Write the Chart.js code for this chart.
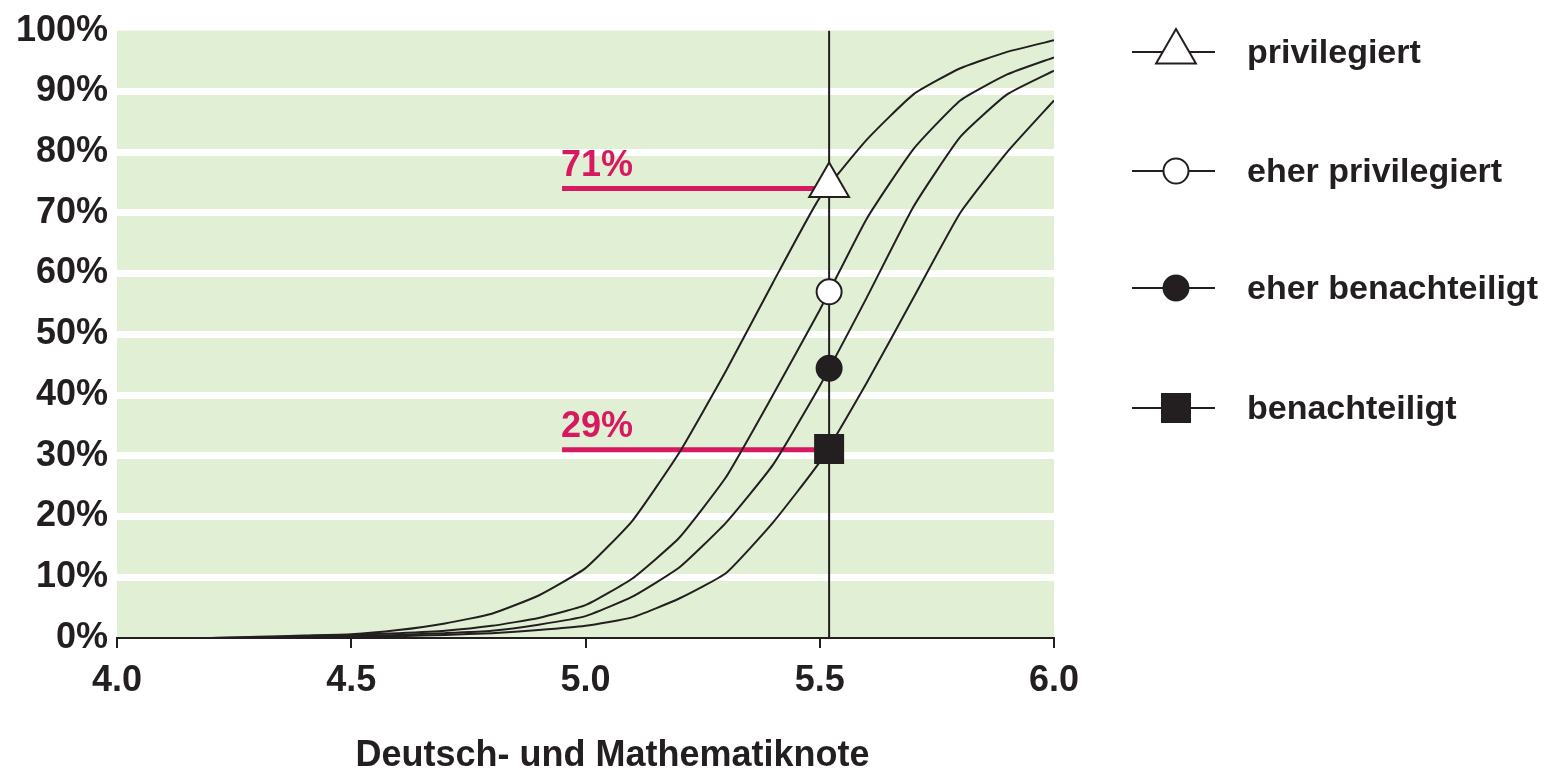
<!DOCTYPE html>
<html>
<head>
<meta charset="utf-8">
<script src="https://cdn.jsdelivr.net/npm/chart.js@4/dist/chart.umd.min.js"></script>
<style>
  html, body { margin: 0; padding: 0; background: #fff; }
  #wrap { width: 1560px; height: 772px; }
</style>
</head>
<body>
<div id="wrap"><canvas id="chart" width="1560" height="772"></canvas></div>
<script>
// Deutsch- und Mathematiknote (x) vs. Anteil in % (y)
const grades = [4.2, 4.3, 4.4, 4.5, 4.6, 4.7, 4.8, 4.9, 5.0, 5.1, 5.2, 5.3, 5.4, 5.5, 5.6, 5.7, 5.8, 5.9, 6.0];
const privilegiert      = [0, 0.2, 0.4, 0.6, 1.3, 2.4, 4.0, 7.0, 11.5, 19.3, 30.5, 44, 58.5, 72.5, 82, 89.5, 93.8, 96.5, 98.4];
const eherPrivilegiert  = [0, 0.1, 0.3, 0.5, 0.8, 1.2, 2.0, 3.3, 5.4, 9.8, 16.5, 26.5, 40, 54, 69, 80.5, 88.5, 92.8, 95.6];
const eherBenachteiligt = [0, 0.1, 0.2, 0.3, 0.5, 0.8, 1.2, 2.2, 3.6, 6.8, 11.6, 19, 28.5, 41.5, 56, 71, 82.5, 89.5, 93.4];
const benachteiligt     = [0, 0, 0.1, 0.2, 0.3, 0.5, 0.8, 1.3, 2.0, 3.4, 6.5, 10.7, 19, 29, 42, 56, 70, 80, 88.5];

const groupNames = ["privilegiert", "eher privilegiert", "eher benachteiligt", "benachteiligt"];
const cutoff = 5.52;
const markerValues = [74.5, 57, 44.4, 31.1];
const markerStyles = ["triangle", "circle", "circle", "rect"];
const markerFills = ["#ffffff", "#ffffff", "#231f20", "#231f20"];
const markerSizes = [23, 12.5, 12.5, 19.8];

const highlightValues = [74, 31];
const highlightLabels = ["71%", "29%"];
const highlightFrom = 4.95;

const xTicks = [4.0, 4.5, 5.0, 5.5, 6.0];
const yTicks = [0, 10, 20, 30, 40, 50, 60, 70, 80, 90, 100];

const ink = "#231f20";
const pink = "#d7195f";
const green = "#e1efd5";
const font = "'Liberation Sans', Arial, sans-serif";

const curves = [privilegiert, eherPrivilegiert, eherBenachteiligt, benachteiligt];

const datasets = [];
// markers on the cutoff line
markerValues.forEach((v, i) => {
  datasets.push({
    label: groupNames[i],
    data: [{ x: cutoff, y: v }],
    showLine: false,
    pointStyle: markerStyles[i],
    pointRadius: markerSizes[i],
    pointBackgroundColor: markerFills[i],
    pointBorderColor: ink,
    pointBorderWidth: 2,
    order: 0
  });
});
curves.forEach((c, i) => {
  datasets.push({
    label: groupNames[i] + " Kurve",
    data: grades.map((g, j) => ({ x: g, y: c[j] })),
    borderColor: ink,
    borderWidth: 2,
    pointRadius: 0,
    tension: 0.15,
    fill: false,
    order: 1
  });
});
datasets.push({
  label: "Schwelle",
  data: [{ x: cutoff, y: 0 }, { x: cutoff, y: 100 }],
  borderColor: ink,
  borderWidth: 2,
  pointRadius: 0,
  order: 2
});
highlightValues.forEach((v, i) => {
  datasets.push({
    label: highlightLabels[i],
    data: [{ x: highlightFrom, y: v }, { x: cutoff, y: v }],
    borderColor: pink,
    borderWidth: 5,
    pointRadius: 0,
    order: 3
  });
});

const extras = {
  id: "extras",
  beforeDraw(chart) {
    const { ctx, chartArea: a } = chart;
    ctx.save();
    ctx.fillStyle = green;
    ctx.fillRect(a.left, a.top, a.right - a.left, a.bottom - a.top);
    ctx.restore();
  },
  afterDraw(chart) {
    const { ctx, chartArea: a } = chart;
    const xs = chart.scales.x, ys = chart.scales.y;
    ctx.save();
    // pink value labels
    ctx.fillStyle = pink;
    ctx.font = "bold 36px " + font;
    ctx.textAlign = "left";
    ctx.textBaseline = "alphabetic";
    highlightValues.forEach((v, i) => {
      ctx.fillText(highlightLabels[i], xs.getPixelForValue(highlightFrom) - 1, ys.getPixelForValue(v) - 13);
    });
    // axis title
    ctx.fillStyle = ink;
    ctx.font = "bold 36px " + font;
    ctx.textAlign = "center";
    ctx.textBaseline = "middle";
    ctx.fillText("Deutsch- und Mathematiknote", (a.left + a.right) / 2 + 27, 756);
    // legend
    const rows = [52, 171, 288, 408];
    groupNames.forEach((name, i) => {
      const y = rows[i];
      ctx.strokeStyle = ink;
      ctx.lineWidth = 2;
      ctx.beginPath();
      ctx.moveTo(1132, y);
      ctx.lineTo(1215, y);
      ctx.stroke();
      ctx.fillStyle = markerFills[i];
      Chart.helpers.drawPoint(ctx, { pointStyle: markerStyles[i], radius: markerSizes[i], borderWidth: 2 }, 1176, y);
      ctx.fillStyle = ink;
      ctx.font = "bold 34px " + font;
      ctx.textAlign = "left";
      ctx.textBaseline = "middle";
      ctx.fillText(name, 1247, y + 2);
    });
    ctx.restore();
  }
};

new Chart(document.getElementById("chart"), {
  type: "line",
  data: { datasets },
  plugins: [extras],
  options: {
    responsive: false,
    animation: false,
    layout: { padding: { top: 28, right: 506, left: 0, bottom: 0 } },
    plugins: { legend: { display: false }, tooltip: { enabled: false } },
    scales: {
      x: {
        type: "linear",
        min: 4, max: 6,
        afterBuildTicks: s => { s.ticks = xTicks.map(v => ({ value: v })); },
        afterFit: s => { s.height = 134; },
        ticks: {
          callback: v => v.toFixed(1),
          color: ink,
          font: { family: font, size: 36, weight: "bold" },
          padding: 11,
          maxRotation: 0
        },
        grid: { drawOnChartArea: false, color: ink, lineWidth: 2, tickLength: 10 },
        border: { color: ink, width: 2 }
      },
      y: {
        min: 0, max: 100,
        afterBuildTicks: s => { s.ticks = yTicks.map(v => ({ value: v })); },
        afterFit: s => { s.width = 117; },
        ticks: {
          callback: v => v + "%",
          color: ink,
          font: { family: font, size: 36, weight: "bold" },
          padding: 9
        },
        grid: {
          color: c => (c.tick && (c.tick.value === 0 || c.tick.value === 100)) ? "rgba(0,0,0,0)" : "#ffffff",
          lineWidth: 7,
          drawTicks: false
        },
        border: { display: false }
      }
    }
  }
});
</script>
</body>
</html>
